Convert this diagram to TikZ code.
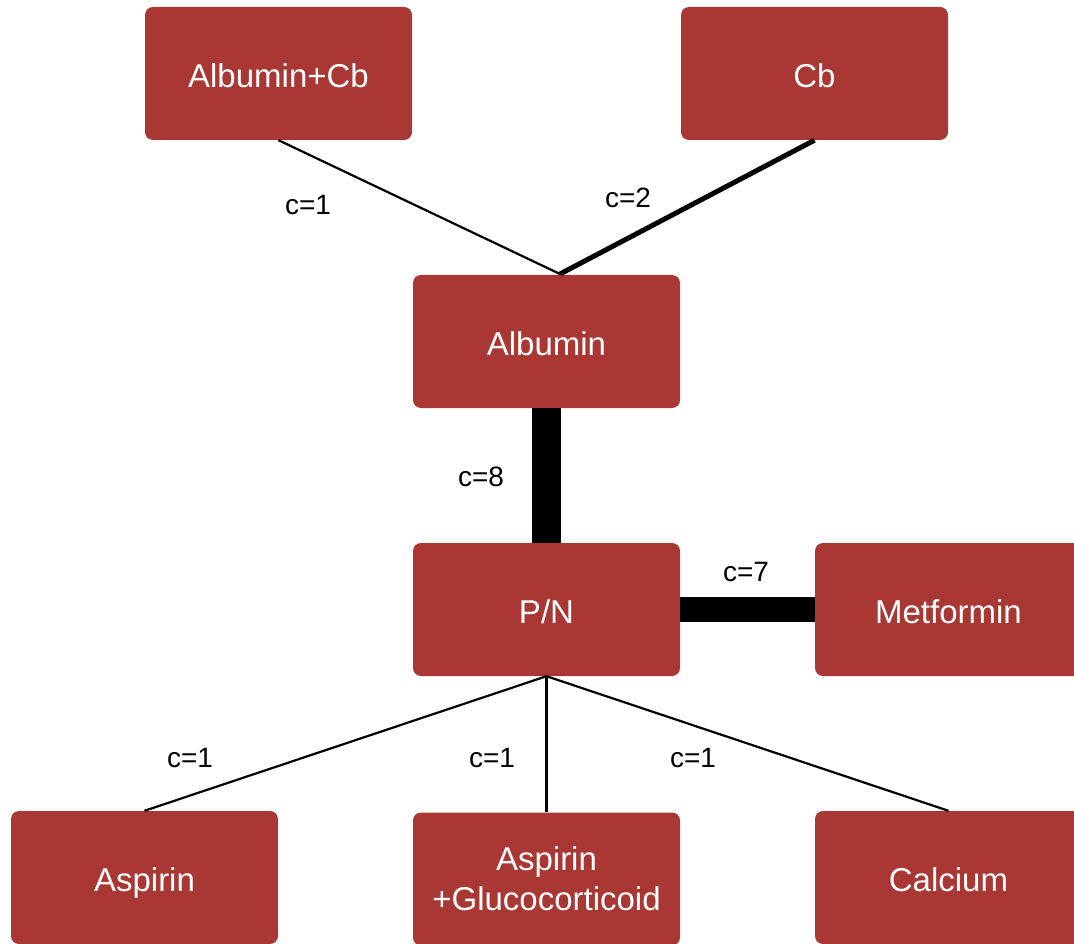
\documentclass[tikz,border=0pt]{standalone}
\usepackage{fontspec}
\setmainfont{Liberation Sans}
\definecolor{boxred}{HTML}{A93834}
\begin{document}
\begin{tikzpicture}[x=1pt,y=-1pt,
  box/.style={fill=boxred, draw=none, rounded corners=8pt, minimum width=267pt, minimum height=133pt,
    text=white, font=\fontsize{33}{40}\selectfont, align=center, inner sep=0pt},
  one/.style={text height=30pt, text depth=2pt},
  lbl/.style={font=\fontsize{28}{33}\selectfont, inner sep=0pt},
  thin/.style={line width=2.2pt},
  medium/.style={line width=5pt}]
\useasboundingbox (0,0) rectangle (1074,944);
\clip (0,0) rectangle (1074,944);
\node[box,one] (ac) at (278.5,73.5) {Albumin+Cb};
\node[box,one] (cb) at (814.5,73.5) {Cb};
\node[box,one] (alb) at (546.5,341.5) {Albumin};
\node[box,one] (pn) at (546.5,609.5) {P/N};
\node[box,one] (met) at (948.5,609.5) {Metformin};
\node[box,one] (asp) at (144.5,877.5) {Aspirin};
\node[box] (ag) at (546.5,879) {Aspirin\\+Glucocorticoid};
\node[box,one] (cal) at (948.5,877.5) {Calcium};
\coordinate (v) at (560,274);
\draw[thin] (ac.south) -- (v);
\draw[medium] (cb.south) -- (v);
\draw[line width=29pt] (alb.south) -- (pn.north);
\draw[line width=25pt] (pn.east) -- (met.west);
\draw[thin] (pn.south) -- (asp.north);
\draw[thin] (pn.south) -- (ag.north);
\draw[thin] (pn.south) -- (cal.north);
\node[lbl] (l1) at (308,205) {c=1};
\node[lbl] (l2) at (628,198) {c=2};
\node[lbl] (l8) at (481,477) {c=8};
\node[lbl] (l7) at (746,572) {c=7};
\node[lbl] (l4) at (190,758) {c=1};
\node[lbl] (l5) at (492,758) {c=1};
\node[lbl] (l6) at (693,758) {c=1};
\end{tikzpicture}
\end{document}
